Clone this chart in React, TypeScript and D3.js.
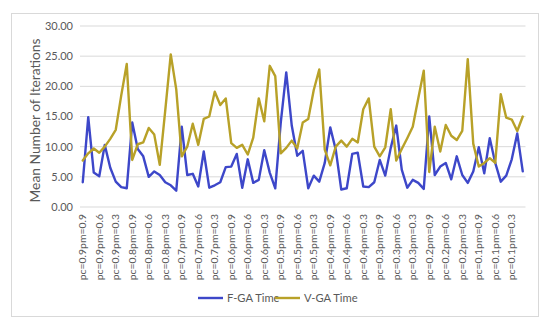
import * as React from 'react';
import * as d3 from 'd3';

const dimensions = { width: 550, height: 329 };
const margin = { top: 26, left: 80, right: 24.5, bottom: 122 };

// crossover / mutation settings, three runs each
const pcValues = ['0.9', '0.8', '0.7', '0.6', '0.5', '0.4', '0.3', '0.2', '0.1'];
const pmValues = ['0.9', '0.6', '0.3'];
const runs = [1, 2, 3];

const yTicks = [0, 5, 10, 15, 20, 25, 30];

const fgaTime = [
  4.1, 14.9, 5.7, 5.1, 10.3, 6.5, 4.2, 3.3, 3.1,
  14.0, 9.6, 8.4, 5.0, 5.9, 5.3, 4.1, 3.6, 2.7,
  13.3, 5.3, 5.5, 3.4, 9.2, 3.2, 3.6, 4.1, 6.6,
  6.7, 8.8, 3.2, 7.9, 4.0, 4.5, 9.4, 5.7, 3.1,
  14.0, 22.3, 13.5, 8.5, 9.3, 3.1, 5.2, 4.2, 7.3,
  13.2, 9.5, 2.9, 3.1, 8.8, 9.0, 3.4, 3.3, 4.1,
  7.8, 5.2, 9.8, 13.5, 6.2, 3.2, 4.5, 4.0, 3.0,
  15.0, 5.3, 6.7, 7.3, 4.6, 8.4, 5.3, 4.0, 5.9,
  9.9, 5.6, 11.4, 7.3, 4.2, 5.2, 7.9, 12.2, 5.9,
];

const vgaTime = [
  7.7, 8.9, 9.7, 9.0, 10.0, 11.3, 12.8, 18.5, 23.7,
  7.8, 10.4, 10.7, 13.1, 12.0, 7.0, 16.0, 25.3, 19.5,
  8.4, 10.0, 13.8, 10.3, 14.6, 15.0, 19.1, 16.9, 18.0,
  10.6, 9.8, 10.3, 8.7, 11.5, 18.0, 14.2, 23.4, 21.7,
  8.9, 9.8, 11.0, 9.7, 14.0, 14.6, 19.4, 22.8, 9.5,
  6.9, 10.0, 11.0, 10.0, 11.3, 10.7, 16.2, 18.0, 10.0,
  8.4, 9.9, 16.2, 7.7, 9.6, 11.4, 13.3, 18.0, 22.6,
  5.8, 13.3, 9.2, 13.6, 11.8, 11.1, 12.6, 24.5, 10.5,
  6.7, 7.3, 8.1, 7.3, 18.7, 14.8, 14.5, 12.6, 15.0,
];

const seriesNames = ['F-GA Time', 'V-GA Time'];
const colors = ['#3D47C9', '#B8A128'];

const categories = pcValues.flatMap((pc) =>
  pmValues.flatMap((pm) => runs.map((r) => ({ pc, pm, r })))
);
const keys = categories.map((c) => `${c.pc}|${c.pm}|${c.r}`);

const font = 'Lato, "Open Sans", sans-serif';

const App: React.FC = () => {
  const x = d3
    .scaleBand(keys, [margin.left, dimensions.width - margin.right])
    .paddingInner(0)
    .paddingOuter(0);
  const y = d3.scaleLinear([0, 30], [dimensions.height - margin.bottom, margin.top]);
  const cx = (k: string) => (x(k) ?? 0) + x.bandwidth() / 2;

  const line = d3
    .line<number>()
    .x((_, i) => cx(keys[i]))
    .y((d) => y(d));

  const series = [fgaTime, vgaTime];

  return (
    <svg
      width={dimensions.width}
      height={dimensions.height}
      viewBox={`0 0 ${dimensions.width} ${dimensions.height}`}
      style={{ position: 'absolute', left: 0, top: 0, background: '#fff' }}
      fontFamily={font}
    >
      <rect x={11.5} y={13.5} width={527} height={303} fill="#fff" stroke="#D9D9D9" />
      <g>
        {yTicks.map((t) => (
          <g key={t}>
            <line
              x1={margin.left}
              x2={dimensions.width - margin.right}
              y1={y(t)}
              y2={y(t)}
              stroke="#D9D9D9"
              strokeWidth={1}
            />
            <text
              x={73}
              y={y(t)}
              dy="0.35em"
              textAnchor="end"
              fontSize={11}
              fill="#595959"
            >
              {t.toFixed(2)}
            </text>
          </g>
        ))}
      </g>
      <text
        transform={`translate(40, ${(y(0) + y(30)) / 2 + 4}) rotate(-90)`}
        textAnchor="middle"
        fontSize={13.8}
        fill="#595959"
      >
        Mean Number of Iterations
      </text>
      <g>
        {categories.map((c, i) =>
          c.r === 1 ? (
            <text
              key={keys[i]}
              transform={`translate(${cx(keys[i]) + 3.6}, ${y(0) + 7}) rotate(-90)`}
              textAnchor="end"
              fontSize={10.4}
              fill="#595959"
            >
              {`pc=${c.pc}pm=${c.pm}`}
            </text>
          ) : null
        )}
      </g>
      <g fill="none" strokeWidth={2.4} strokeLinejoin="round" strokeLinecap="round">
        {series.map((s, i) => (
          <path key={seriesNames[i]} d={line(s) ?? ''} stroke={colors[i]} />
        ))}
      </g>
      <g fontSize={11.2} fill="#595959">
        {seriesNames.map((name, i) => {
          const lx = 198 + i * 77;
          return (
            <g key={name}>
              <line x1={lx} x2={lx + 25} y1={298} y2={298} stroke={colors[i]} strokeWidth={2.4} />
              <text x={lx + 29} y={298} dy="0.35em">
                {name}
              </text>
            </g>
          );
        })}
      </g>
    </svg>
  );
};

export default App;
